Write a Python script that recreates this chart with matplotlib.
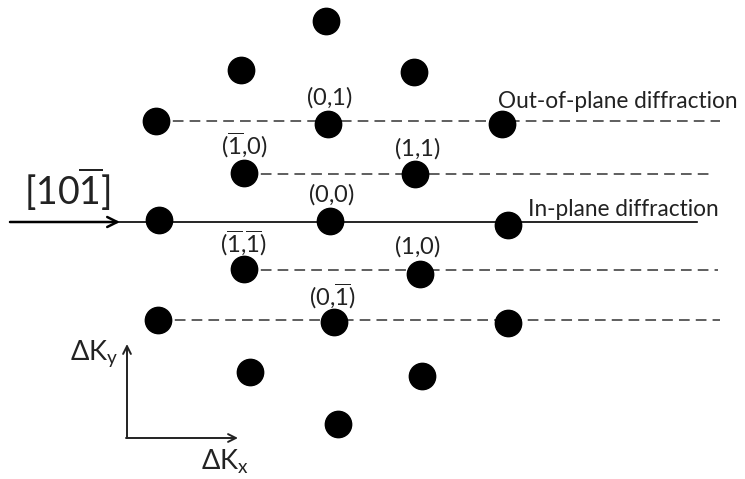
import matplotlib
matplotlib.use("Agg")
import matplotlib.pyplot as plt

plt.rcParams['font.family'] = ['Lato', 'DejaVu Sans']
plt.rcParams['mathtext.fontset'] = 'custom'
plt.rcParams['mathtext.rm'] = 'Lato'
plt.rcParams['mathtext.it'] = 'Lato'

# reciprocal lattice spots (pixel-like coordinates, y grows downward)
spot_x = [326, 241, 414, 156, 328, 502, 244, 415, 159, 330, 508,
          244, 420, 158, 334, 508, 250, 422, 338]
spot_y = [21, 70, 72, 121, 124, 124, 173, 174, 220, 221, 225,
          269, 274, 320, 322, 323, 372, 376, 424]

# diffraction rows: start x, end x, y, style
row_x0 = [156, 244, 10, 244, 158]
row_x1 = [720, 710, 697, 718, 720]
row_y = [121, 174, 222, 270, 320]
row_style = ['--', '--', '-', '--', '--']

# Miller index labels
idx_text = [r'$\mathrm{(0{,}1)}$', r'$\mathrm{(\overline{1}{,}0)}$', r'$\mathrm{(1{,}1)}$',
            r'$\mathrm{(0{,}0)}$', r'$\mathrm{(\overline{1}{,}\overline{1})}$',
            r'$\mathrm{(1{,}0)}$', r'$\mathrm{(0{,}\overline{1})}$']
idx_x = [329, 244, 417, 331, 243, 417, 332]
idx_y = [97, 145, 148, 194, 243, 246, 296]

fig = plt.figure(figsize=(7.45, 4.79), dpi=100)
ax = fig.add_axes([0, 0, 1, 1])
ax.set_xlim(0, 745)
ax.set_ylim(479, 0)
ax.axis('off')

for x0, x1, y, ls in zip(row_x0, row_x1, row_y, row_style):
    if ls == '--':
        ax.plot([x0, x1], [y, y], color='#333333', lw=1.1, ls=(0, (7, 4)), zorder=1)
    else:
        ax.plot([x0, x1], [y, y], color='black', lw=1.2, zorder=1)

ax.scatter(spot_x, spot_y, s=360, color='black', zorder=3)

for t, x, y in zip(idx_text, idx_x, idx_y):
    ax.text(x, y, t, fontsize=17, ha='center', va='center', color='#222222')

ax.text(498, 101, 'Out-of-plane diffraction', fontsize=16.3, ha='left', va='center', color='#222222')
ax.text(528, 210, 'In-plane diffraction', fontsize=16.3, ha='left', va='center', color='#222222')

# beam direction
ax.annotate('', xy=(120, 222), xytext=(10, 222),
            arrowprops=dict(arrowstyle='->', lw=1.8, color='black',
                            mutation_scale=18, shrinkA=0, shrinkB=0))
ax.text(67, 189, r'$\mathrm{[10\overline{1}]}$', fontsize=27, ha='center', va='center',
        color='#222222')

# reciprocal axes
ax.annotate('', xy=(127, 344), xytext=(127, 438),
            arrowprops=dict(arrowstyle='->', lw=1.4, color='#222222',
                            mutation_scale=14, shrinkA=0, shrinkB=0))
ax.annotate('', xy=(238, 438), xytext=(126, 438),
            arrowprops=dict(arrowstyle='->', lw=1.4, color='#222222',
                            mutation_scale=14, shrinkA=0, shrinkB=0))
ax.text(94, 354, r'$\mathrm{\Delta K_y}$', fontsize=19.5, ha='center', va='center', color='#222222')
ax.text(225, 462, r'$\mathrm{\Delta K_x}$', fontsize=19.5, ha='center', va='center', color='#222222')

fig.savefig('out.png', dpi=100)
